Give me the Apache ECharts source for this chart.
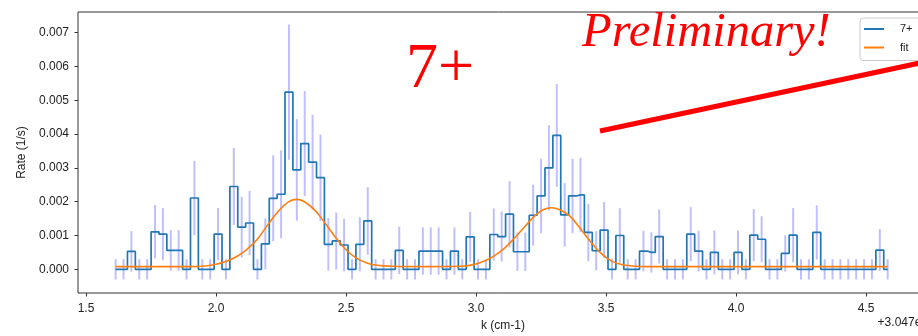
<!DOCTYPE html>
<html><head><meta charset="utf-8">
<script src="https://cdn.jsdelivr.net/npm/echarts@6/dist/echarts.min.js"></script>
<style>html,body{margin:0;padding:0;background:#fff}#c{width:918px;height:336px}</style>
</head><body><div id="c"></div>
<script>
// bin centres (k - 3047, cm-1)
const binK = [
1.6140,1.6443,1.6746,1.7049,1.7352,1.7655,1.7958,1.8261,1.8564,1.8867,
1.9170,1.9473,1.9776,2.0079,2.0382,2.0685,2.0988,2.1291,2.1594,2.1897,
2.2200,2.2503,2.2806,2.3109,2.3412,2.3715,2.4018,2.4321,2.4624,2.4927,
2.5230,2.5533,2.5836,2.6139,2.6442,2.6745,2.7048,2.7351,2.7654,2.7957,
2.8260,2.8563,2.8866,2.9169,2.9472,2.9775,3.0078,3.0381,3.0684,3.0987,
3.1290,3.1593,3.1896,3.2199,3.2502,3.2805,3.3108,3.3411,3.3714,3.4017,
3.4320,3.4623,3.4926,3.5229,3.5532,3.5835,3.6138,3.6441,3.6744,3.7047,
3.7350,3.7653,3.7956,3.8259,3.8562,3.8865,3.9168,3.9471,3.9774,4.0077,
4.0380,4.0683,4.0986,4.1289,4.1592,4.1895,4.2198,4.2501,4.2804,4.3107,
4.3410,4.3713,4.4016,4.4319,4.4622,4.4925,4.5228,4.5531,4.5834];
// rate (1/s) of the "7+" histogram
const rate = [
0,0,0.00053,0,0,0.00111,0.00104,0.00056,0.00056,0,
0.00211,0,0,0.00104,0,0.00245,0.00125,0.00137,0,0.00075,
0.0021,0.00222,0.00524,0.00294,0.00372,0.00317,0.00271,0.00074,0.00084,0.00072,
0,0.00074,0.00143,0,0,0,0.00056,0,0,0.00054,
0.00054,0.00054,0,0.00054,0,0.00096,0,0,0.00103,0.00097,
0.00163,0.00052,0.00052,0.0016,0.00217,0.003,0.00396,0.00161,0.00217,0.0022,
0.00109,0.00055,0.00116,0,0.001,0,0,0.00054,0.0005,0.00097,
0,0,0,0.00104,0.00054,0,0.0005,0,0,0.0005,
0,0.00101,0.00089,0,0,0.00047,0.00101,0,0,0.00109,
0,0,0,0,0,0,0,0.00057,0];
// error bar half-lengths
const rateErr = [
0.0003,0.0003,0.0006,0.0003,0.0003,0.00079,0.00077,0.0006,0.0006,0.0003,
0.0011,0.0003,0.0003,0.00077,0.0003,0.00114,0.0009,0.00095,0.0003,0.00075,
0.00127,0.0013,0.002,0.0015,0.00155,0.0014,0.00128,0.00078,0.00084,0.00078,
0.0003,0.0008,0.001,0.0003,0.0003,0.0003,0.0007,0.0003,0.0003,0.0007,
0.0007,0.0007,0.0003,0.0007,0.0003,0.00074,0.0003,0.0003,0.00077,0.00074,
0.00098,0.00057,0.00057,0.0009,0.0011,0.00126,0.00152,0.00094,0.0011,0.0011,
0.00085,0.00058,0.00083,0.0003,0.00081,0.0003,0.0003,0.0006,0.0006,0.0008,
0.0003,0.0003,0.0003,0.0008,0.0006,0.0003,0.00065,0.0003,0.0003,0.00065,
0.0003,0.00077,0.00068,0.0003,0.0003,0.00054,0.0008,0.0003,0.0003,0.0008,
0.0003,0.0003,0.0003,0.0003,0.0003,0.0003,0.0003,0.00062,0.0003];
// fit curve
const fitK = [1.614,1.90,1.96,2.00,2.04,2.08,2.12,2.16,2.20,2.24,2.28,2.31,2.34,2.38,2.42,2.46,2.50,2.54,2.58,2.62,2.68,2.80,2.94,2.99,3.03,3.07,3.11,3.15,3.19,3.23,3.26,3.29,3.32,3.36,3.40,3.44,3.48,3.52,3.56,3.60,3.66,4.5834];
const fitRate = [0.00008,0.00008,0.0001,0.00015,0.00024,0.00038,0.0006,0.0009,0.00133,0.00172,0.002,0.00207,0.002,0.00175,0.00136,0.00094,0.00058,0.00033,0.00019,0.00012,0.00009,0.00008,0.00009,0.00014,0.00024,0.0004,0.00063,0.00094,0.00128,0.00161,0.00177,0.00182,0.00177,0.00158,0.00122,0.00082,0.00048,0.00025,0.00014,0.0001,0.00008,0.00008];
const xTicks = [1.5,2.0,2.5,3.0,3.5,4.0,4.5];
const yTicks = [0,0.001,0.002,0.003,0.004,0.005,0.006,0.007];
// red annotation stroke
const markK = [3.477, 4.76];
const markRate = [0.00409, 0.00619];

const FONT = '"Liberation Sans", Arial, sans-serif';
const chart = echarts.init(document.getElementById('c'), null, {renderer:'canvas'});
chart.setOption({
  animation:false,
  backgroundColor:'#fff',
  grid:{left:78, top:12, width:850, height:281, show:true, borderColor:'#333', borderWidth:1, containLabel:false, outerBoundsMode:'none'},
  xAxis:{type:'value', min:1.4692, max:4.7385,
    axisLine:{show:false, onZero:false}, splitLine:{show:false},
    axisTick:{show:true, customValues:xTicks, length:3.5, lineStyle:{color:'#333', width:1}},
    axisLabel:{customValues:xTicks, formatter:v=>v.toFixed(1), fontSize:12, fontFamily:FONT, color:'#222', margin:10},
    name:'k (cm-1)', nameLocation:'middle', nameGap:27, nameTextStyle:{fontSize:12, fontFamily:FONT, color:'#222'}},
  yAxis:{type:'value', min:-0.0007, max:0.00761,
    axisLine:{show:false, onZero:false}, splitLine:{show:false},
    axisTick:{show:true, customValues:yTicks, length:3.5, lineStyle:{color:'#333', width:1}},
    axisLabel:{customValues:yTicks, formatter:v=>v.toFixed(3), fontSize:12, fontFamily:FONT, color:'#222', margin:9},
    name:'Rate (1/s)', nameLocation:'middle', nameGap:47, nameRotate:90, nameTextStyle:{fontSize:12, fontFamily:FONT, color:'#222'}},
  legend:{data:[{name:'7+', icon:'rect'},{name:'fit', icon:'rect'}], orient:'vertical', left:860, top:18,
    backgroundColor:'rgba(255,255,255,0.8)', borderColor:'#ccc', borderWidth:1, borderRadius:3,
    padding:[4,20,6,4], itemWidth:20, itemHeight:2, itemGap:4.5,
    textStyle:{fontSize:11, lineHeight:14, fontFamily:FONT, color:'#222', padding:[0,0,0,11]}},
  series:[
    {type:'custom', name:'err', silent:true, z:1,
      data:binK.map((k,i)=>[k, rate[i], rateErr[i]]),
      encode:{x:0, y:1},
      renderItem:function(params, api){
        const x=api.value(0), y=api.value(1), e=api.value(2);
        const p1=api.coord([x,y-e]), p2=api.coord([x,y+e]);
        return {type:'line', shape:{x1:p1[0],y1:p1[1],x2:p2[0],y2:p2[1]},
          style:{stroke:'rgba(0,0,255,0.25)', lineWidth:2}};
      }},
    {type:'line', name:'7+', step:'middle', symbol:'none', showSymbol:false, z:3,
      data:binK.map((k,i)=>[k, rate[i]]),
      color:'#1f77b4', itemStyle:{color:'#1f77b4'}, lineStyle:{color:'#1f77b4', width:1.7}},
    {type:'line', name:'fit', smooth:0.4, symbol:'none', showSymbol:false, z:4,
      data:fitK.map((k,i)=>[k, fitRate[i]]),
      color:'#ff7f0e', itemStyle:{color:'#ff7f0e'}, lineStyle:{color:'#ff7f0e', width:1.6}},
    {type:'line', name:'mark', symbol:'none', silent:true, z:5,
      data:markK.map((k,i)=>[k, markRate[i]]),
      lineStyle:{color:'#ff0000', width:5}}
  ],
  graphic:[
    {type:'text', x:582, y:33.5, z:10, style:{text:'Preliminary!', font:'italic 48.5px "Liberation Serif", "Times New Roman", serif', fill:'#ff0000', align:'left', verticalAlign:'middle'}},
    {type:'text', x:406, y:70.5, z:10, style:{text:'7+', font:'64px "Liberation Serif", "Times New Roman", serif', fill:'#ff0000', align:'left', verticalAlign:'middle'}},
    {type:'text', x:928, y:323, z:10, style:{text:'+3.047e3', font:'12px "Liberation Sans", Arial, sans-serif', fill:'#222', align:'right', verticalAlign:'middle'}}
  ]
});
</script>
</body></html>
